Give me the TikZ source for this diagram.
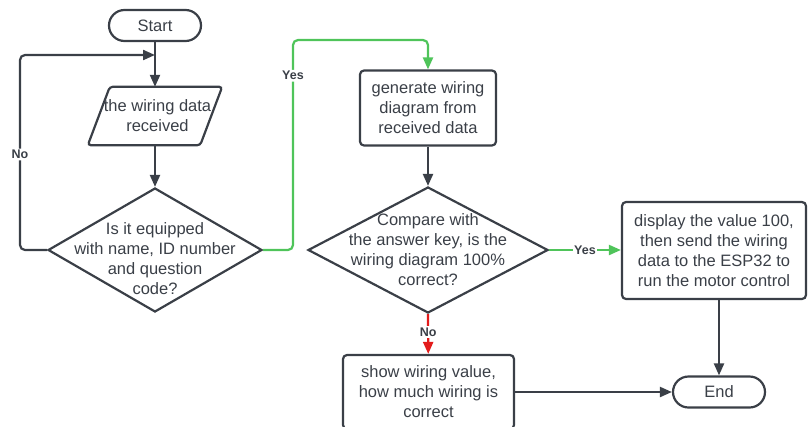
\documentclass[tikz,border=0pt]{standalone}
\usepackage{fontspec}
\setmainfont{Liberation Sans}
\usetikzlibrary{shapes.geometric,arrows.meta}

\definecolor{ink}{HTML}{3A3F47}
\definecolor{yesgreen}{HTML}{4FC45A}
\definecolor{nored}{HTML}{E31B1B}

\tikzset{
  line/.style={draw=ink, line width=2.2pt},
  terminal/.style={line, rounded corners=15.5pt, minimum width=92pt, minimum height=31pt, text=ink},
  process/.style={line, rounded corners=4pt, align=center, text=ink, inner sep=0pt},
  decision/.style={line, diamond, inner sep=0pt},
  txt/.style={align=center, text=ink},
  lbl/.style={fill=white, font=\fontsize{12.5}{14}\selectfont\bfseries, text=ink, inner sep=1.5pt},
}

\begin{document}
\begin{tikzpicture}[x=1pt, y=-1pt, >={Triangle[length=12pt,width=10pt]},
    font=\fontsize{16.5}{20}\selectfont]

        \useasboundingbox (0,0) rectangle (808,426);

        % Start and input
        \node[terminal] (start) at (155,25.5) {Start};
        \node[txt, minimum width=134pt, minimum height=58pt, inner sep=0pt] (recv) at (155,116) {\hspace*{5pt}the wiring data\\\hspace*{5pt}received};
        \draw[line, rounded corners=3pt] (recv.south west) -- ([xshift=-22pt]recv.south east)
            -- (recv.north east) -- ([xshift=22pt]recv.north west) -- cycle;
        \coordinate (join) at (155,55);

        % First check
        \node[decision, minimum width=214pt, minimum height=124pt,
            label={[txt,yshift=-9pt]center:{Is it equipped\\with name, ID number\\and question\\code?}}] (q1) at (155,250) {};

        % Right column
        \node[process, minimum width=136pt, minimum height=75pt] (gen) at (428,108) {generate wiring\\diagram from\\received data};
        \node[decision, minimum width=240pt, minimum height=126pt,
            label={[txt]center:{Compare with\\the answer key, is the\\wiring diagram 100\%\\correct?}}] (q2) at (428,250) {};
        \node[process, minimum width=184pt, minimum height=97pt] (disp) at (714,250.5) {display the value 100,\\then send the wiring\\data to the ESP32 to\\run the motor control};
        \node[process, minimum width=171pt, minimum height=74pt] (show) at (428.5,392) {show wiring value,\\how much wiring is\\correct};
        \node[terminal] (end) at (719,392) {End};

        % Connectors
        \draw[line, ->] (start) -- (recv);
        \draw[line, ->] (recv) -- (q1);
        \draw[line, ->, rounded corners=5pt] (q1.west) -- (20,250) -- node[lbl, pos=0.49] {No} (20,55) -- (join);
        \draw[line, draw=yesgreen, ->, rounded corners=5pt] (q1.east) -- (293,250) -- node[lbl, pos=0.83] {Yes} (293,40) -- (428,40) -- (gen);
        \draw[line, ->] (gen) -- (q2);
        \draw[line, draw=yesgreen, ->] (q2.east) -- node[lbl] {Yes} (q2.east -| disp.west);
        \draw[line, draw=nored, ->] (q2.south) -- node[lbl, pos=0.45] {No} (show);
        \draw[line, ->] (end |- disp.south) -- (end);
        \draw[line, ->] (show) -- (end);

    \end{tikzpicture}
\end{document}
